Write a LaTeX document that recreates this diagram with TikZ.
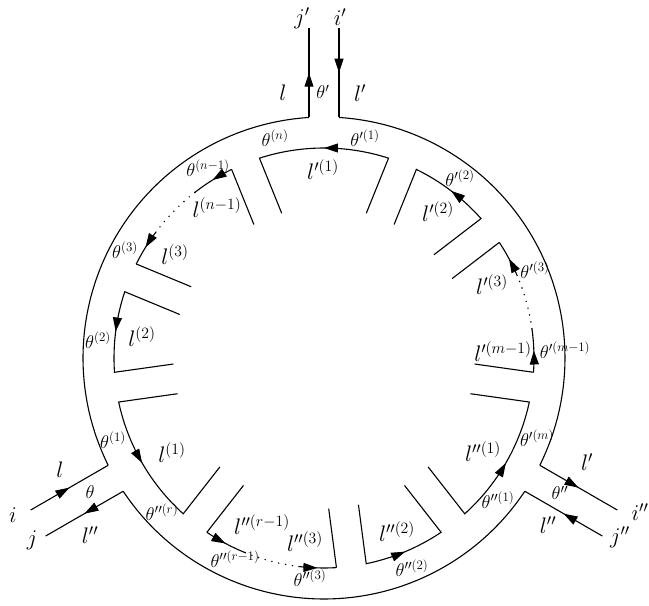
\RequirePackage{fix-cm}
\documentclass[tikz,border=0pt]{standalone}
\usetikzlibrary{arrows.meta,calc,decorations.markings}

\begin{document}
\begin{tikzpicture}[
  x=1pt, y=1pt, line width=1.1pt,
  flow/.style={postaction={decorate}, decoration={markings, mark=at position 0.5 with {\arrow{Triangle[length=14pt,width=9pt]}}}},
  dots/.style={line cap=round, line width=1.6pt, dash pattern=on 0pt off 7pt},
  lab/.style={font=\fontsize{22.5}{26}\selectfont, inner sep=0pt},
  ang/.style={font=\fontsize{18.5}{22}\selectfont, inner sep=0pt}
]
\useasboundingbox (-324,-248) rectangle (325,358);

\foreach \a in {90,210,330}{
  \draw[flow] ($(\a:240.53)+(\a+90:15)$) -- ($(\a:330)+(\a+90:15)$);
  \draw[flow] ($(\a:330)+(\a-90:15)$) -- ($(\a:240.53)+(\a-90:15)$);
  \draw (\a+3.57:241) arc[start angle=\a+3.57, end angle=\a+116.43, radius=241];
  \draw[flow] ($(\a-22:150)+(\a+68:15)$) -- (\a-17.9:210)
    arc[start angle=\a-17.9, end angle=\a+17.9, radius=210] -- ($(\a+22:150)+(\a-68:15)$);
  \draw ($(\a+22:150)+(\a+112:15)$) -- (\a+26.1:210);
  \draw[flow] (\a+26.1:210) arc[start angle=\a+26.1, end angle=\a+38, radius=210];
  \draw[dots] (\a+38:210) arc[start angle=\a+38, end angle=\a+53, radius=210];
  \draw[flow] (\a+53:210) arc[start angle=\a+53, end angle=\a+63.4, radius=210];
  \draw (\a+63.4:210) -- ($(\a+67.5:150)+(\a-22.5:15)$);
  \draw[flow] ($(\a+67.5:150)+(\a+157.5:15)$) -- (\a+71.6:210)
    arc[start angle=\a+71.6, end angle=\a+93.9, radius=210] -- ($(\a+98:150)+(\a+8:15)$);
}

\node[lab] (jp) at (-22,340) {$j'$};
\node[lab] (ip) at (16,341) {$i'$};
\node[lab] (ltop) at (-41,265) {$l$};
\node[ang] (thp) at (-1,266) {$\theta'$};
\node[lab] (lptop) at (36,265) {$l'$};
\node[ang] (thn) at (-49,220) {$\theta^{(n)}$};
\node[ang] (thp1) at (41,220) {$\theta'^{(1)}$};
\node[lab] (lp1) at (-1,188) {$l'^{(1)}$};
\node[ang] (thn1) at (-116,190) {$\theta^{(n-1)}$};
\node[lab] (ln1) at (-107,150) {$l^{(n-1)}$};
\node[ang] (th3) at (-199,108) {$\theta^{(3)}$};
\node[lab] (l3) at (-149,103) {$l^{(3)}$};
\node[ang] (th2) at (-226,18) {$\theta^{(2)}$};
\node[lab] (l2) at (-182,21) {$l^{(2)}$};
\node[ang] (th1) at (-211,-82) {$\theta^{(1)}$};
\node[lab] (l1) at (-152,-95) {$l^{(1)}$};
\node[lab] (lleft) at (-264,-112) {$l$};
\node[ang] (th) at (-234,-134) {$\theta$};
\node[lab] (i) at (-311,-157) {$i$};
\node[lab] (j) at (-292,-182) {$j$};
\node[lab] (lppleft) at (-234,-177) {$l''$};
\node[ang] (thppr) at (-162,-154) {$\theta''^{(r)}$};
\node[lab] (lppr1) at (-62,-167) {$l''^{(r-1)}$};
\node[ang] (thppr1) at (-89,-201) {$\theta''^{(r-1)}$};
\node[lab] (lpp3) at (-19,-184) {$l''^{(3)}$};
\node[ang] (thpp3) at (-14,-220) {$\theta''^{(3)}$};
\node[lab] (lpp2) at (73,-174) {$l''^{(2)}$};
\node[ang] (thpp2) at (88,-210) {$\theta''^{(2)}$};
\node[ang] (thpp1) at (174,-142) {$\theta''^{(1)}$};
\node[lab] (lpp1) at (159,-94) {$l''^{(1)}$};
\node[ang] (thpm) at (213,-80) {$\theta'^{(m)}$};
\node[lab] (lpright) at (263,-104) {$l'$};
\node[ang] (thpp) at (236,-135) {$\theta''$};
\node[lab] (lppright) at (224,-167) {$l''$};
\node[lab] (ipp) at (316,-154) {$i''$};
\node[lab] (jpp) at (296,-179) {$j''$};
\node[lab] (lpm1) at (179,6) {$l'^{(m-1)}$};
\node[ang] (thpm1) at (241,8) {$\theta'^{(m-1)}$};
\node[lab] (lp3) at (168,73) {$l'^{(3)}$};
\node[ang] (thp3) at (211,88) {$\theta'^{(3)}$};
\node[lab] (lp2) at (114,146) {$l'^{(2)}$};
\node[ang] (thp2) at (136,180) {$\theta'^{(2)}$};
\end{tikzpicture}
\end{document}
